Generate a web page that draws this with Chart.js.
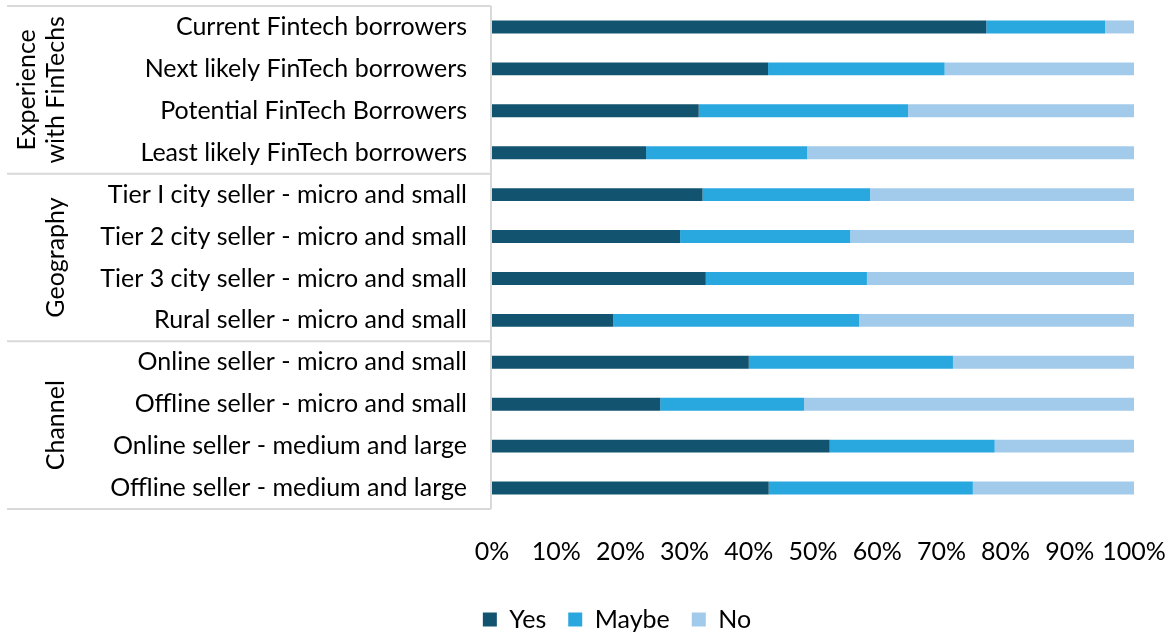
<!DOCTYPE html>
<html>
<head>
<meta charset="utf-8">
<script src="https://cdn.jsdelivr.net/npm/chart.js@4/dist/chart.umd.min.js"></script>
<style>
  html, body { margin: 0; padding: 0; background: #fff; overflow: hidden; }
  #wrap { width: 1169px; height: 635px; overflow: hidden; }
  #wrap canvas { display: block; }
</style>
</head>
<body>
<div id="wrap"><canvas id="sellerChart" width="1169" height="642"></canvas></div>
<script>
// Survey rows, top to bottom
const categories = [
  "Current Fintech borrowers",
  "Next likely FinTech borrowers",
  "Potential FinTech Borrowers",
  "Least likely FinTech borrowers",
  "Tier I city seller - micro and small",
  "Tier 2 city seller - micro and small",
  "Tier 3 city seller - micro and small",
  "Rural seller - micro and small",
  "Online seller - micro and small",
  "Offline seller - micro and small",
  "Online seller - medium and large",
  "Offline seller - medium and large"
];

// Share of respondents (%)
const yesValues   = [77.0, 43.0, 32.2, 24.0, 32.8, 29.3, 33.3, 18.9, 40.0, 26.2, 52.6, 43.1];
const maybeValues = [18.5, 27.5, 32.6, 25.1, 26.1, 26.5, 25.1, 38.3, 31.8, 22.4, 25.7, 31.8];
const noValues    = [ 4.5, 29.5, 35.2, 50.9, 41.1, 44.2, 41.6, 42.8, 28.2, 51.4, 21.7, 25.1];

const xTicks = [0, 10, 20, 30, 40, 50, 60, 70, 80, 90, 100];

// Outer grouping of the rows: label lines and how many rows each covers
const groups = [
  { lines: ["Experience", "with FinTechs"], rows: 4 },
  { lines: ["Geography"], rows: 4 },
  { lines: ["Channel"], rows: 4 }
];

const FONT = "Lato, 'Open Sans', sans-serif";
const FONT_SIZE = 25;
const LINE_COLOR = "#d9d9d9";

// Draws the group column: separators, right edge and rotated group names
const groupLabels = {
  id: "groupLabels",
  afterDraw(chart) {
    const ctx = chart.ctx;
    const y = chart.scales.y;
    const band = (y.getPixelForValue(1) - y.getPixelForValue(0));
    const left = 7;
    const right = chart.chartArea.left - 1;

    ctx.save();
    ctx.strokeStyle = LINE_COLOR;
    ctx.lineWidth = 2;

    let start = 0;
    const edges = [y.getPixelForValue(0) - band / 2];
    groups.forEach(g => {
      edges.push(y.getPixelForValue(start + g.rows - 1) + band / 2);
      start += g.rows;
    });

    edges.forEach(e => {
      ctx.beginPath();
      ctx.moveTo(left, e);
      ctx.lineTo(right, e);
      ctx.stroke();
    });
    ctx.beginPath();
    ctx.moveTo(right, edges[0]);
    ctx.lineTo(right, edges[edges.length - 1]);
    ctx.stroke();

    ctx.fillStyle = "#000";
    ctx.font = FONT_SIZE + "px " + FONT;
    ctx.textAlign = "center";
    ctx.textBaseline = "middle";
    groups.forEach((g, i) => {
      const mid = (edges[i] + edges[i + 1]) / 2;
      const lineGap = 29;
      const x0 = 56 - (g.lines.length - 1) * lineGap;
      g.lines.forEach((text, j) => {
        ctx.save();
        ctx.translate(x0 + j * lineGap, mid);
        ctx.rotate(-Math.PI / 2);
        ctx.fillText(text, 0, 0);
        ctx.restore();
      });
    });
    ctx.restore();
  }
};

const ctx = document.getElementById("sellerChart").getContext("2d");
new Chart(ctx, {
  type: "bar",
  data: {
    labels: categories,
    datasets: [
      { label: "Yes",   data: yesValues,   backgroundColor: "#12546f" },
      { label: "Maybe", data: maybeValues, backgroundColor: "#29a8e0" },
      { label: "No",    data: noValues,    backgroundColor: "#a2cbeb" }
    ]
  },
  options: {
    indexAxis: "y",
    responsive: false,
    animation: false,
    devicePixelRatio: 1,
    layout: { padding: { left: 100, right: 35, top: 6, bottom: 0 } },
    datasets: {
      bar: { categoryPercentage: 1, barPercentage: 0.31, borderWidth: 0 }
    },
    scales: {
      x: {
        stacked: true,
        min: 0,
        max: 100,
        afterBuildTicks: scale => { scale.ticks = xTicks.map(v => ({ value: v })); },
        afterFit: scale => {
          scale.height = 76;
          scale.paddingLeft = 0;
          scale.paddingRight = 0;
        },
        ticks: {
          autoSkip: false,
          padding: 28,
          color: "#000",
          font: { family: FONT, size: FONT_SIZE },
          callback: v => v + "%",
          maxRotation: 0
        },
        grid: { display: false, drawTicks: false },
        border: { display: false }
      },
      y: {
        stacked: true,
        afterFit: scale => {
          scale.width = 392;
          scale.paddingTop = 0;
          scale.paddingBottom = 0;
        },
        ticks: {
          autoSkip: false,
          padding: 25,
          color: "#000",
          font: { family: FONT, size: FONT_SIZE }
        },
        grid: { display: false, drawTicks: false },
        border: { display: false }
      }
    },
    plugins: {
      tooltip: { enabled: false },
      legend: {
        position: "bottom",
        labels: {
          boxWidth: 14,
          boxHeight: 14,
          padding: 22,
          color: "#000",
          font: { family: FONT, size: FONT_SIZE }
        }
      }
    }
  },
  plugins: [groupLabels]
});
</script>
</body>
</html>
